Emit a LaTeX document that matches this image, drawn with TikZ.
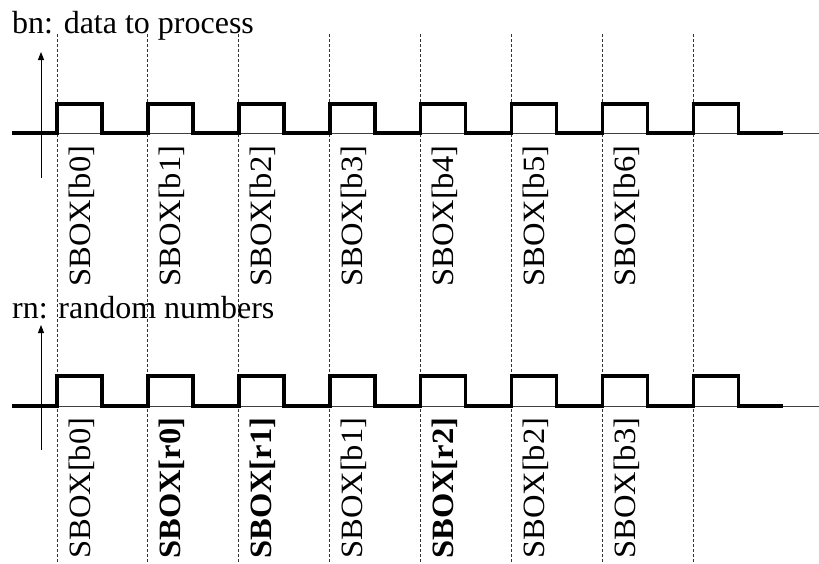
\documentclass[tikz,border=0pt]{standalone}
\usepackage{fontspec}
\setmainfont{Liberation Serif}
\usetikzlibrary{arrows.meta}
\begin{document}
\begin{tikzpicture}[x=1pt,y=-1pt,
  wave/.style={line width=3.6pt, line join=miter},
  rail/.style={line width=0.8pt, black!75},
  guide/.style={line width=1pt, black!80, dash pattern=on 3pt off 2pt},
  axis/.style={line width=1pt, -{Triangle[length=8pt,width=6pt]}},
  title/.style={anchor=base west, inner sep=0pt, font=\fontsize{32}{32}\selectfont},
  slot/.style={anchor=base west, inner sep=0pt, rotate=90, xscale=1.05, font=\fontsize{31}{31}\selectfont},
]
\useasboundingbox (0,0) rectangle (819,563);

% vertical timing guides through both rows
\foreach \i in {0,...,7}
  \draw[guide] ({57+90.9*\i},34) -- ({57+90.9*\i},563);

% row captions
\node[title] (tb) at (12,33) {bn: data to process};
\node[title] (tr) at (12,318) {rn: random numbers};

% the two pulse trains: thin rail, thick clock-like signal, small axis
\foreach \row/\low/\high/\axlo/\axhi in {b/133/104/178/52, r/406/376/450/325} {
  \draw[rail] (12,\low) -- (819,\low);
  \draw[wave] (12,\low)
    \foreach \i in {0,...,7} {
      -- ({57+90.9*\i},\low) -- ({57+90.9*\i},\high)
      -- ({102+90.9*\i},\high) -- ({102+90.9*\i},\low)
    } -- (783,\low);
  \coordinate (ax\row lo) at (41,\axlo);
  \coordinate (ax\row hi) at (41,\axhi);
  \draw[axis] (ax\row lo) -- (ax\row hi);
}

% S-box slots of the data row
\foreach \i/\txt in {0/b0,1/b1,2/b2,3/b3,4/b4,5/b5,6/b6}
  \node[slot] (sb\i) at ({90+90.9*\i},287) {SBOX[\txt]};

% S-box slots of the mixed row (random slots in bold)
\foreach \i/\txt in {0/SBOX[b0],1/\textbf{SBOX[r0]},2/\textbf{SBOX[r1]},3/SBOX[b1],4/\textbf{SBOX[r2]},5/SBOX[b2],6/SBOX[b3]}
  \node[slot] (sr\i) at ({90+90.9*\i},559) {\txt};
\end{tikzpicture}
\end{document}
